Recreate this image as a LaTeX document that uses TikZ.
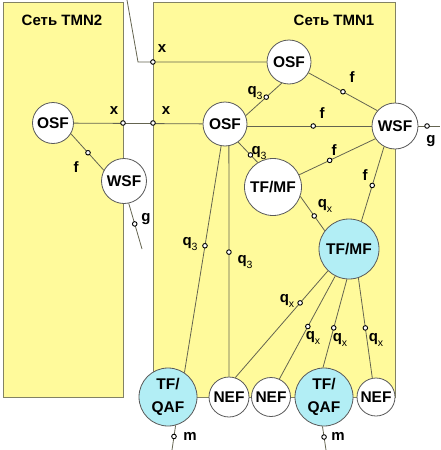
\documentclass[tikz,border=0pt]{standalone}
\usepackage{fontspec}
\setmainfont{Liberation Sans}
\usetikzlibrary{calc}
\definecolor{panel}{RGB}{255,250,155}
\definecolor{panelline}{RGB}{130,130,100}
\definecolor{cyanfill}{RGB}{178,238,245}
\definecolor{conn}{RGB}{100,100,80}
\newcommand{\qsub}[1]{q\raisebox{-0.28em}{\fontsize{10.5}{10.5}\selectfont\mdseries #1}}
\tikzset{
  panelbox/.style={fill=panel,draw=panelline,line width=0.8pt},
  fn/.style={circle,draw=black!65,line width=0.8pt,fill=white,inner sep=0pt,align=center,
    font=\fontsize{15.5}{23}\selectfont\bfseries},
  cfn/.style={fn,fill=cyanfill},
  link/.style={draw=conn,line width=0.8pt},
  dotp/.style={circle,draw=black,fill=white,line width=0.9pt,inner sep=0pt,minimum size=4.6pt},
  lbl/.style={inner sep=0pt,font=\fontsize{15}{15}\selectfont\bfseries},
}
\begin{document}
\begin{tikzpicture}[x=1pt,y=-1pt]
\useasboundingbox (0,0) rectangle (440,450);
% panels
\path[panelbox] (3,2) rectangle (123,397);
\path[panelbox] (153,2) rectangle (395,397);
\node[lbl] (t2) at (62,20) {Сеть TMN2};
\node[lbl] (t1) at (334,20) {Сеть TMN1};
% nodes
\node[fn,minimum size=41pt] (osf2) at (53,123) {OSF};
\node[fn,minimum size=45pt] (wsf2) at (124,181) {WSF};
\node[fn,minimum size=44pt] (osft) at (289,62) {OSF};
\node[fn,minimum size=44pt] (osfm) at (225,124) {OSF};
\node[fn,minimum size=46pt] (wsf1) at (395,126) {WSF};
\node[fn,minimum size=57pt] (tfmf1) at (273,187) {TF/MF};
\node[cfn,minimum size=60pt] (tfmf2) at (349,249) {TF/MF};
\node[cfn,minimum size=58pt] (qaf1) at (168,397) {TF/\\QAF};
\node[fn,minimum size=40pt] (nef1) at (229,397) {NEF};
\node[fn,minimum size=39pt] (nef2) at (271,397) {NEF};
\node[cfn,minimum size=58pt] (qaf2) at (324,397) {TF/\\QAF};
\node[fn,minimum size=38pt] (nef3) at (376,397) {NEF};
% free ends
\coordinate (top0) at (127,0);
\coordinate (top1) at (138,62);
\coordinate (g2end) at (142,249);
\coordinate (g1end) at (440,126);
\coordinate (m1end) at (172,450);
\coordinate (m2end) at (326,450);
% x links
\draw[link] (top0) -- (top1) -- node[dotp,pos=0.116] (dx1) {} (osft.west |- top1);
\draw[link] (osf2) -- (osfm);
\node[dotp] (dx2) at (123,123) {};
\node[dotp] (dx3) at (153,123) {};
% left network
\draw[link] (osf2.-31) -- node[dotp,pos=0.52] (df0) {} (wsf2.152);
\draw[link] (wsf2.-78) -- node[dotp,pos=0.45] (dg2) {} (g2end);
% right network
\draw[link] (osft.-29) -- node[dotp,pos=0.5] (df1) {} (wsf1.139);
\draw[link] (osft.251) -- node[dotp,pos=0.43] (dq1) {} (osfm.22);
\draw[link] (osfm.east |- wsf1.west) -- node[dotp,pos=0.53] (df2) {} (wsf1.west);
\draw[link] (osfm.-54) -- node[dotp,pos=0.63] (dq2) {} (tfmf1.122);
\draw[link] (tfmf1.25) -- node[dotp,pos=0.4] (df3) {} (wsf1.213);
\draw[link] (wsf1.242) -- node[dotp,pos=0.52] (df4) {} (tfmf2.66);
\draw[link] (tfmf1.-19) -- node[dotp,pos=0.57] (dqx0) {} (tfmf2.143);
\draw[link] (wsf1.east) -- node[dotp,pos=0.4] (dg1) {} (g1end);
\draw[link] (osfm.-100) -- node[dotp,pos=0.44] (dq3) {} (qaf1.56);
\draw[link] (osfm.-80) -- node[dotp,pos=0.46] (dq4) {} (nef1.north);
\draw[link] (tfmf2.226) -- node[dotp,pos=0.3] (dqx1) {} (nef1.72);
\draw[link] (tfmf2.243) -- node[dotp,pos=0.49] (dqx2) {} (nef2.65);
\draw[link] (tfmf2.266) -- node[dotp,pos=0.55] (dqx3) {} (qaf2.92);
\draw[link] (tfmf2.288) -- node[dotp,pos=0.5] (dqx4) {} (nef3.101);
\draw[link] (qaf1.-75) -- node[dotp,pos=0.45] (dm1) {} (m1end);
\draw[link] (qaf2.-93) -- node[dotp,pos=0.45] (dm2) {} (m2end);
% labels
\node[lbl] (lx1) at (162,49) {x};
\node[lbl] (lx2) at (114,111) {x};
\node[lbl] (lx3) at (166,111) {x};
\node[lbl] (lf0) at (76,167) {f};
\node[lbl] (lg2) at (146,219) {g};
\node[lbl] (lq1) at (255,93) {\qsub{3}};
\node[lbl] (lf1) at (352,77) {f};
\node[lbl] (lf2) at (322,113) {f};
\node[lbl] (lg1) at (431,141) {g};
\node[lbl] (lq2) at (259,153) {\qsub{3}};
\node[lbl] (lf3) at (334,150) {f};
\node[lbl] (lf4) at (365,175) {f};
\node[lbl] (lqx0) at (325,206) {\qsub{x}};
\node[lbl] (lq3) at (190,244) {\qsub{3}};
\node[lbl] (lq4) at (245,262) {\qsub{3}};
\node[lbl] (lqx1) at (287,301) {\qsub{x}};
\node[lbl] (lqx2) at (313,338) {\qsub{x}};
\node[lbl] (lqx3) at (340,340) {\qsub{x}};
\node[lbl] (lqx4) at (376,340) {\qsub{x}};
\node[lbl] (lm1) at (190,436) {m};
\node[lbl] (lm2) at (338,436) {m};
\end{tikzpicture}
\end{document}
